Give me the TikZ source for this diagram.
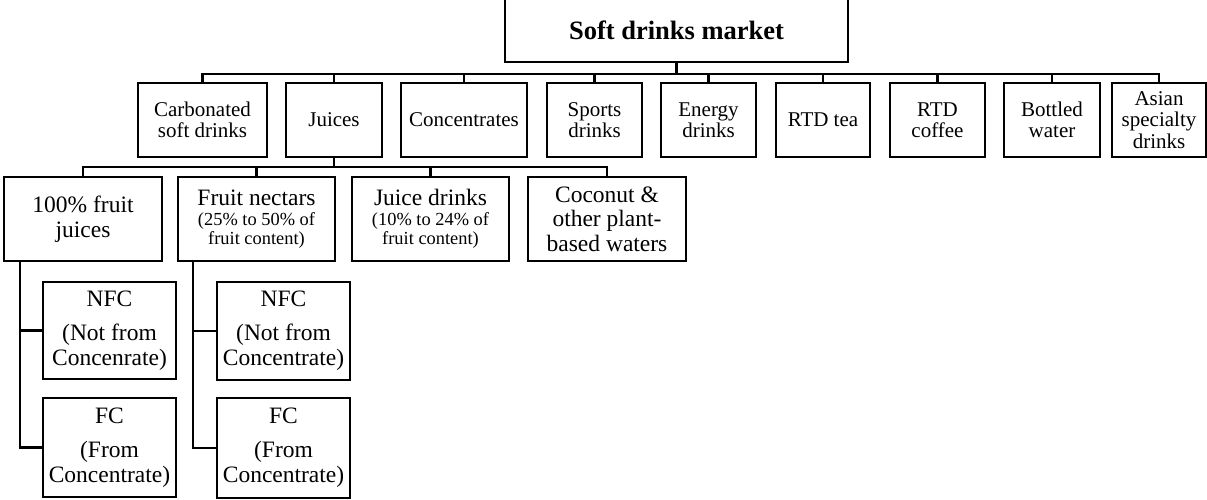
\documentclass[tikz,border=0pt]{standalone}
\usepackage{fontspec}
\setmainfont{Liberation Serif}
\usetikzlibrary{calc}
\tikzset{
  wire/.style={line width=2.2pt},
  box/.style={draw, line width=2.2pt, inner sep=0pt, align=center},
  lvltwo/.style={box, minimum height=74pt, font=\fontsize{21}{21.5}\selectfont},
  lvlthree/.style={box, minimum height=84pt, font=\fontsize{23.5}{24.5}\selectfont},
  lvlfour/.style={box, font=\fontsize{23.5}{25}\selectfont},
}
\newcommand{\notefont}{\fontsize{18.4}{20}\selectfont}
\begin{document}
\begin{tikzpicture}[x=1pt,y=-1pt]
\clip (0,0) rectangle (1207,499);

% root (its top edge runs off the page)
\node[box, minimum width=343pt, minimum height=92pt] (market) at (676.5,16) {};
\node[font=\fontsize{26.5}{28}\selectfont\bfseries, inner sep=0pt] (markettext) at (676.5,30.5) {Soft drinks market};

% categories
\node[lvltwo, minimum width=129pt] (carb)    at (202.5,120) {Carbonated\\soft drinks};
\node[lvltwo, minimum width=96pt]  (juices)  at (334,120)   {Juices};
\node[lvltwo, minimum width=126pt] (conc)    at (464,120)   {Concentrates};
\node[lvltwo, minimum width=95pt]  (sports)  at (594.5,120) {Sports\\drinks};
\node[lvltwo, minimum width=95pt]  (energy)  at (708.5,120) {Energy\\drinks};
\node[lvltwo, minimum width=94pt]  (tea)     at (823,120)   {RTD tea};
\node[lvltwo, minimum width=95pt]  (coffee)  at (937.5,120) {RTD\\coffee};
\node[lvltwo, minimum width=96pt]  (water)   at (1052,120)  {Bottled\\water};
\node[lvltwo, minimum width=94pt]  (asian)   at (1159,120)  {Asian\\specialty\\drinks};

\foreach \c in {carb,juices,conc,sports,energy,tea,coffee,water,asian}
  \draw[wire] (market.south) -- ++(0,11) -| (\c.north);

% juice types
\node[lvlthree, minimum width=158pt] (fruit)  at (83,219)    {100\% fruit\\juices};
\node[lvlthree, minimum width=157pt] (nectar) at (256.5,219) {Fruit nectars\\[-4.5pt]{\notefont (25\% to 50\% of}\\[-5pt]{\notefont fruit content)}};
\node[lvlthree, minimum width=157pt] (jdrink) at (430.5,219) {Juice drinks\\[-4.5pt]{\notefont (10\% to 24\% of}\\[-5pt]{\notefont fruit content)}};
\node[lvlthree, minimum width=158pt] (coco)   at (607,219)   {Coconut \&\\other plant-\\based waters};

\foreach \c in {fruit,nectar,jdrink,coco}
  \draw[wire] (juices.south) -- ++(0,9) -| (\c.north);

% NFC / FC split
\node[lvlfour, minimum width=133pt, minimum height=97pt] (nfcA) at (109.5,330.5) {NFC\\[9pt](Not from\\Concenrate)};
\node[lvlfour, minimum width=133pt, minimum height=99pt] (fcA)  at (109.5,447.5) {FC\\[9pt](From\\Concentrate)};
\node[lvlfour, minimum width=133pt, minimum height=98pt] (nfcB) at (283.5,331)   {NFC\\[9pt](Not from\\Concentrate)};
\node[lvlfour, minimum width=133pt, minimum height=100pt] (fcB) at (283.5,448)   {FC\\[9pt](From\\Concentrate)};

\draw[wire] ($(fruit.south west)+(17,0)$) |- (nfcA.west);
\draw[wire] ($(fruit.south west)+(17,0)$) |- (fcA.west);
\draw[wire] ($(nectar.south west)+(16,0)$) |- (nfcB.west);
\draw[wire] ($(nectar.south west)+(16,0)$) |- (fcB.west);
\end{tikzpicture}
\end{document}
